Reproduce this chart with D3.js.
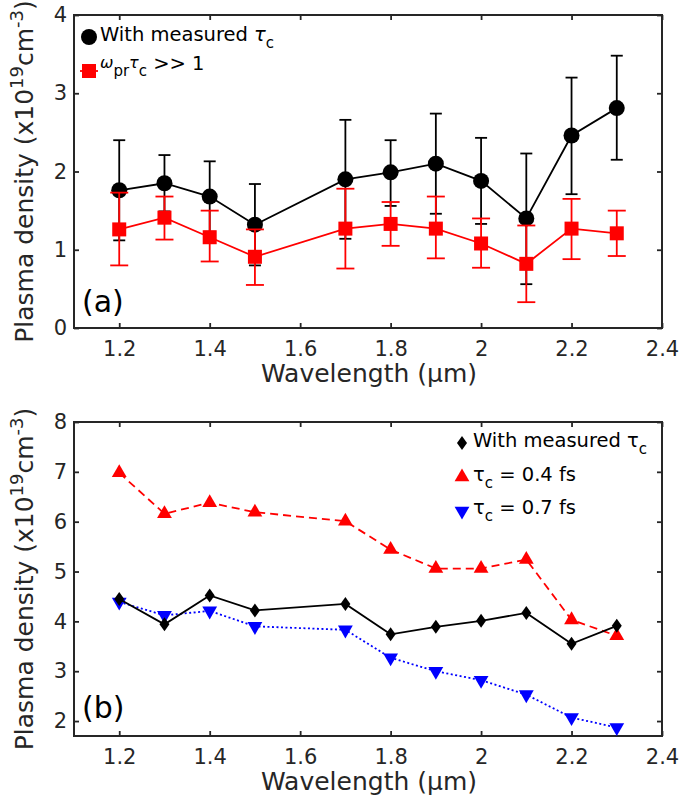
<!DOCTYPE html>
<html>
<head>
<meta charset="utf-8">
<script src="https://cdn.jsdelivr.net/npm/d3@7"></script>
<style>
  body { margin: 0; background: #fff; }
  text { font-family: "DejaVu Sans", sans-serif; }
</style>
</head>
<body>
<div id="chart"></div>
<script>
// wavelengths (um)
const wavelengths = [1.2, 1.3, 1.4, 1.5, 1.7, 1.8, 1.9, 2.0, 2.1, 2.2, 2.3];
const xTicks = [1.2, 1.4, 1.6, 1.8, 2, 2.2, 2.4];

// panel (a)
const measured = [1.76, 1.85, 1.68, 1.32, 1.90, 1.99, 2.10, 1.88, 1.40, 2.46, 2.81];
const measuredHi = [2.40, 2.21, 2.13, 1.84, 2.66, 2.40, 2.74, 2.43, 2.23, 3.20, 3.48];
const measuredLo = [1.12, 1.49, 1.23, 0.80, 1.14, 1.56, 1.46, 1.33, 0.56, 1.71, 2.15];
const wprTc = [1.26, 1.41, 1.16, 0.91, 1.27, 1.33, 1.27, 1.08, 0.82, 1.27, 1.21];
const wprTcHi = [1.73, 1.68, 1.50, 1.26, 1.78, 1.61, 1.68, 1.40, 1.31, 1.65, 1.50];
const wprTcLo = [0.80, 1.13, 0.85, 0.55, 0.76, 1.05, 0.89, 0.77, 0.33, 0.88, 0.92];
const yTicksA = [0, 1, 2, 3, 4];

// panel (b)
const measuredB = [4.45, 3.94, 4.52, 4.22, 4.35, 3.74, 3.89, 4.01, 4.17, 3.55, 3.91];
const tau04 = [6.98, 6.16, 6.38, 6.19, 6.01, 5.44, 5.06, 5.06, 5.24, 4.03, 3.71];
const tau07 = [4.39, 4.12, 4.21, 3.90, 3.83, 3.27, 3.00, 2.82, 2.53, 2.07, 1.87];
const yTicksB = [2, 3, 4, 5, 6, 7, 8];

const W = 685, H = 798;
const svg = d3.select("#chart").append("svg")
  .attr("width", W)
  .attr("height", H);

const axisColor = "#262626";
const x = d3.scaleLinear().domain([1.1, 2.4]).range([74, 662]);

function drawFrame(y, yTicks, top, bottom, tag, tagY) {
  const g = svg.append("g");
  // bottom axis with labels
  g.append("g")
    .attr("transform", `translate(0,${bottom})`)
    .call(d3.axisBottom(x).tickValues(xTicks).tickSizeInner(-5).tickSizeOuter(0).tickPadding(13)
      .tickFormat(d => String(+d.toFixed(1))))
    .call(a => a.select(".domain").remove());
  g.append("g")
    .attr("transform", `translate(0,${top})`)
    .call(d3.axisTop(x).tickValues(xTicks).tickSizeInner(-5).tickSizeOuter(0).tickFormat(""))
    .call(a => a.select(".domain").remove());
  g.append("g")
    .attr("transform", "translate(74,0)")
    .call(d3.axisLeft(y).tickValues(yTicks).tickSizeInner(-5).tickSizeOuter(0).tickPadding(7)
      .tickFormat(d3.format("d")))
    .call(a => a.select(".domain").remove());
  g.append("g")
    .attr("transform", "translate(662,0)")
    .call(d3.axisRight(y).tickValues(yTicks).tickSizeInner(-5).tickSizeOuter(0).tickFormat(""))
    .call(a => a.select(".domain").remove());
  g.selectAll(".tick line").attr("stroke", axisColor).attr("stroke-width", 1.8);
  g.selectAll(".tick text")
    .attr("fill", axisColor)
    .style("font-size", "21px")
    .style("font-family", "'DejaVu Sans', sans-serif");

  g.append("rect")
    .attr("x", 74).attr("y", top)
    .attr("width", 662 - 74).attr("height", bottom - top)
    .attr("fill", "none").attr("stroke", axisColor).attr("stroke-width", 2);

  // x title
  g.append("text")
    .attr("x", (74 + 662) / 2 + 1)
    .attr("y", bottom + 54)
    .attr("text-anchor", "middle")
    .attr("fill", axisColor)
    .style("font-size", "25px")
    .text("Wavelength (µm)");

  // y title
  const yt = g.append("text")
    .attr("transform", `translate(33,${(top + bottom) / 2}) rotate(-90)`)
    .attr("text-anchor", "middle")
    .attr("fill", axisColor)
    .style("font-size", "25px");
  yt.append("tspan").text("Plasma density (x10");
  yt.append("tspan").attr("baseline-shift", "super").style("font-size", "18px").text("19");
  yt.append("tspan").text("cm");
  yt.append("tspan").attr("baseline-shift", "super").style("font-size", "18px").text("-3");
  yt.append("tspan").text(")");

  g.append("text")
    .attr("x", 82).attr("y", tagY)
    .attr("fill", "#000")
    .style("font-size", "30px")
    .text(tag);
}

// ---------- panel (a) ----------
const yA = d3.scaleLinear().domain([0, 4]).range([328, 15]);
drawFrame(yA, yTicksA, 15, 328, "(a)", 312);

const line = d3.line();

function errorSeries(y, vals, lo, hi, color, capW) {
  const g = svg.append("g");
  g.append("path")
    .attr("d", line(wavelengths.map((w, i) => [x(w), y(vals[i])])))
    .attr("fill", "none").attr("stroke", color).attr("stroke-width", 1.8);
  wavelengths.forEach((w, i) => {
    const cx = x(w);
    g.append("line").attr("x1", cx).attr("x2", cx)
      .attr("y1", y(lo[i])).attr("y2", y(hi[i]))
      .attr("stroke", color).attr("stroke-width", 1.8);
    [lo[i], hi[i]].forEach(v => {
      g.append("line").attr("x1", cx - capW / 2).attr("x2", cx + capW / 2)
        .attr("y1", y(v)).attr("y2", y(v))
        .attr("stroke", color).attr("stroke-width", 1.8);
    });
  });
  return g;
}

const gBlack = errorSeries(yA, measured, measuredLo, measuredHi, "#000", 12);
gBlack.selectAll("circle.m").data(measured).join("circle")
  .attr("cx", (d, i) => x(wavelengths[i]))
  .attr("cy", d => yA(d))
  .attr("r", 8)
  .attr("fill", "#000");

const gRed = errorSeries(yA, wprTc, wprTcLo, wprTcHi, "#ff0000", 18);
gRed.selectAll("rect.m").data(wprTc).join("rect")
  .attr("x", (d, i) => x(wavelengths[i]) - 7)
  .attr("y", d => yA(d) - 7)
  .attr("width", 14).attr("height", 14)
  .attr("fill", "#ff0000");

// legend (a)
svg.append("circle").attr("cx", 89).attr("cy", 37).attr("r", 8).attr("fill", "#000");
let lt = svg.append("text").attr("x", 100).attr("y", 41).style("font-size", "19.5px").attr("fill", "#000");
lt.append("tspan").text("With measured ");
lt.append("tspan").style("font-style", "italic").text("τ");
lt.append("tspan").attr("dy", 7).style("font-size", "15px").text("c");

svg.append("line").attr("x1", 80).attr("x2", 98).attr("y1", 71).attr("y2", 71).attr("stroke", "#ff0000").attr("stroke-width", 1.8);
svg.append("rect").attr("x", 82).attr("y", 64).attr("width", 14).attr("height", 14).attr("fill", "#ff0000");
lt = svg.append("text").attr("x", 100).attr("y", 70).style("font-size", "19.5px").attr("fill", "#000");
lt.append("tspan").style("font-style", "italic").attr("dy", -2).style("font-size", "16px").text("ω");
lt.append("tspan").attr("dy", 8).style("font-size", "15px").text("pr");
lt.append("tspan").attr("dy", -8).style("font-style", "italic").style("font-size", "16px").text("τ");
lt.append("tspan").attr("dy", 8).style("font-size", "15px").text("c");
lt.append("tspan").attr("dy", -6).text(" >> 1");

// ---------- panel (b) ----------
const yB = d3.scaleLinear().domain([1.7, 8]).range([736, 422]);
drawFrame(yB, yTicksB, 422, 736, "(b)", 718);

const tri = d3.symbol().type(d3.symbolTriangle).size(95);

// red dashed, tau 0.4 fs
svg.append("path")
  .attr("d", line(wavelengths.map((w, i) => [x(w), yB(tau04[i])])))
  .attr("fill", "none").attr("stroke", "#ff0000").attr("stroke-width", 1.8)
  .attr("stroke-dasharray", "8,5");
svg.append("g").selectAll("path").data(tau04).join("path")
  .attr("d", tri)
  .attr("transform", (d, i) => `translate(${x(wavelengths[i])},${yB(d)})`)
  .attr("fill", "#ff0000");

// blue dotted, tau 0.7 fs
svg.append("path")
  .attr("d", line(wavelengths.map((w, i) => [x(w), yB(tau07[i])])))
  .attr("fill", "none").attr("stroke", "#0000ff").attr("stroke-width", 1.8)
  .attr("stroke-dasharray", "2,2.5");
svg.append("g").selectAll("path").data(tau07).join("path")
  .attr("d", tri)
  .attr("transform", (d, i) => `translate(${x(wavelengths[i])},${yB(d)}) rotate(180)`)
  .attr("fill", "#0000ff");

// black solid, measured
svg.append("path")
  .attr("d", line(wavelengths.map((w, i) => [x(w), yB(measuredB[i])])))
  .attr("fill", "none").attr("stroke", "#000").attr("stroke-width", 1.8);
const diamond = "M0,-7L5,0L0,7L-5,0Z";
svg.append("g").selectAll("path").data(measuredB).join("path")
  .attr("d", diamond)
  .attr("transform", (d, i) => `translate(${x(wavelengths[i])},${yB(d)})`)
  .attr("fill", "#000");

// legend (b)
svg.append("path").attr("d", diamond).attr("transform", "translate(462,443)").attr("fill", "#000");
lt = svg.append("text").attr("x", 473).attr("y", 447).style("font-size", "19.5px").attr("fill", "#000");
lt.append("tspan").text("With measured τ");
lt.append("tspan").attr("dy", 7).style("font-size", "15px").text("c");

svg.append("path").attr("d", tri).attr("transform", "translate(462,477)").attr("fill", "#ff0000");
lt = svg.append("text").attr("x", 473).attr("y", 481).style("font-size", "19.5px").attr("fill", "#000");
lt.append("tspan").text("τ");
lt.append("tspan").attr("dy", 7).style("font-size", "15px").text("c");
lt.append("tspan").attr("dy", -7).text(" = 0.4 fs");

svg.append("path").attr("d", tri).attr("transform", "translate(462,511) rotate(180)").attr("fill", "#0000ff");
lt = svg.append("text").attr("x", 473).attr("y", 514).style("font-size", "19.5px").attr("fill", "#000");
lt.append("tspan").text("τ");
lt.append("tspan").attr("dy", 7).style("font-size", "15px").text("c");
lt.append("tspan").attr("dy", -7).text(" = 0.7 fs");
</script>
</body>
</html>
